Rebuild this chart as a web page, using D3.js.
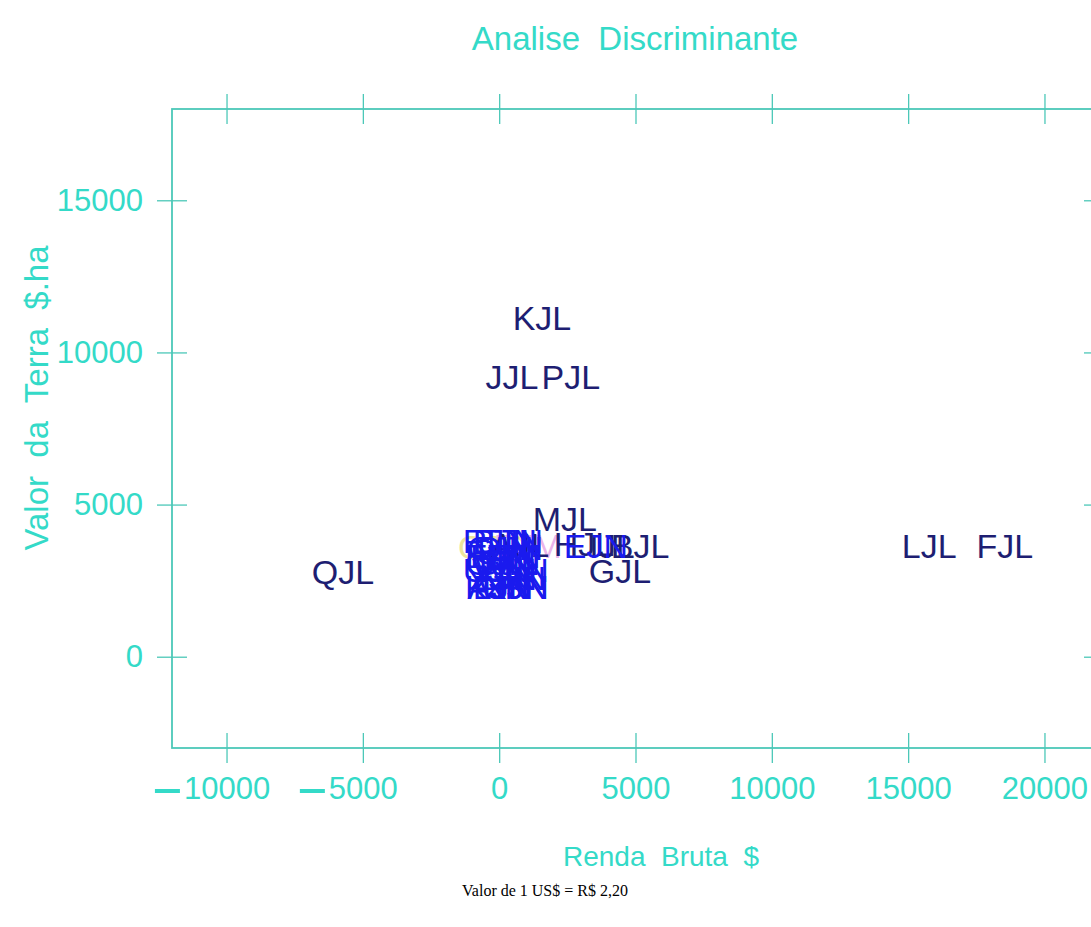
<!DOCTYPE html>
<html>
<head>
<meta charset="utf-8">
<script src="https://cdn.jsdelivr.net/npm/d3@7"></script>
<style>
  html, body { margin: 0; padding: 0; background: #ffffff; }
  svg text { white-space: pre; }
</style>
</head>
<body>
<script>
// Discriminant analysis scatter: gross income ($) vs land value ($/ha), one text label per farm.

const xTicks = [-10000, -5000, 0, 5000, 10000, 15000, 20000];
const yTicks = [0, 5000, 10000, 15000];

// Farms of group "JL"
const jlNames = ["QJL", "KJL", "JJL", "PJL", "MJL", "LJL", "FJL", "AJL", "HJL", "IJL", "BJL", "GJL"];
const jlRenda = [-5730, 1570, 470, 2630, 2410, 15770, 18550, 760, 3110, 4140, 5170, 4430];
const jlTerra = [2780, 11130, 9190, 9190, 4530, 3640, 3640, 3670, 3700, 3640, 3640, 2820];

// Farms of group "JN"
const jnNames = ["RJN", "BJN", "TJN", "CJN", "DJN", "EJN", "HJN", "IJN", "OJN", "SJN", "UJN", "VJN",
                 "WJN", "YJN", "ZJN", "PJN", "KJN", "LJN", "XJN", "AJN", "NJN", "EJN"];
const jnRenda = [-120, 210, 470, 30, 400, -80, 140, 580, -10, 320, -120, 180,
                 470, -40, 250, 540, -80, 140, 620, 20, 610, 3550];
const jnTerra = [3800, 3800, 3800, 3570, 3570, 3310, 3310, 3310, 3080, 3080, 2850, 2850,
                 2850, 2590, 2590, 2590, 2290, 2290, 2290, 2290, 2290, 3640];

// Remaining marks under the cluster
const otherNames = ["OJC", "EJM"];
const otherRenda = [-260, 1050];
const otherTerra = [3610, 3640];
const otherColors = ["#eee49a", "#eab4ea"];

const W = 1091, H = 927;
const axisColor = "#4cc8b8";
const textColor = "#34dac8";
const jlColor = "#1e1e72";
const jnColor = "#1a1aee";
const fontFam = "'Liberation Sans', Arial, sans-serif";

const svg = d3.select("body").append("svg")
  .attr("width", W).attr("height", H)
  .style("font-family", fontFam);

svg.append("rect").attr("width", W).attr("height", H).attr("fill", "#ffffff");

const x = d3.scaleLinear().domain([-12000, 22000]).range([172, 1099]);
const y = d3.scaleLinear().domain([-3000, 18000]).range([748, 109]);

// Frame
svg.append("rect")
  .attr("x", x(-12000)).attr("y", y(18000))
  .attr("width", x(22000) - x(-12000)).attr("height", y(-3000) - y(18000))
  .attr("fill", "none").attr("stroke", axisColor).attr("stroke-width", 1.8);

const tickLen = 30;

function styleAxis(g, showText) {
  g.select(".domain").remove();
  g.selectAll(".tick line").attr("stroke", axisColor).attr("stroke-width", 1.3);
  g.selectAll(".tick text")
    .attr("fill", textColor)
    .style("font-size", "31px")
    .style("font-family", fontFam)
    .style("display", showText ? null : "none");
}

// Bottom axis with labels; the number is centred on the tick, a wide minus bar hangs to its left
const bottom = svg.append("g")
  .attr("transform", `translate(0,${y(-3000) - tickLen / 2})`)
  .call(d3.axisBottom(x).tickValues(xTicks).tickSize(tickLen).tickPadding(14)
    .tickFormat(d => String(Math.abs(d))))
  .call(g => styleAxis(g, true));

bottom.selectAll(".tick").filter(d => d < 0).each(function () {
  const t = d3.select(this).select("text");
  const w = t.node().getComputedTextLength();
  d3.select(this).append("rect")
    .attr("x", -w / 2 - 29).attr("width", 25)
    .attr("y", tickLen + 14 + 12).attr("height", 4)
    .attr("fill", textColor);
});

// Top axis, ticks only
svg.append("g")
  .attr("transform", `translate(0,${y(18000) + tickLen / 2})`)
  .call(d3.axisTop(x).tickValues(xTicks).tickSize(tickLen).tickFormat(""))
  .call(g => styleAxis(g, false));

// Left axis with labels
svg.append("g")
  .attr("transform", `translate(${x(-12000) + tickLen / 2},0)`)
  .call(d3.axisLeft(y).tickValues(yTicks).tickSize(tickLen).tickPadding(14))
  .call(g => g.selectAll(".tick text").text(d => String(d)))
  .call(g => styleAxis(g, true));

// Right axis, ticks only
svg.append("g")
  .attr("transform", `translate(${x(22000) - tickLen / 2},0)`)
  .call(d3.axisRight(y).tickValues(yTicks).tickSize(tickLen).tickFormat(""))
  .call(g => styleAxis(g, false));

// Titles
svg.append("text")
  .attr("x", 635).attr("y", 50)
  .attr("text-anchor", "middle").attr("fill", textColor)
  .style("font-size", "33px")
  .text("Analise  Discriminante");

svg.append("text")
  .attr("x", 661).attr("y", 866)
  .attr("text-anchor", "middle").attr("fill", textColor)
  .style("font-size", "28px")
  .text("Renda  Bruta  $");

svg.append("text")
  .attr("transform", "translate(48,398) rotate(-90)")
  .attr("text-anchor", "middle").attr("fill", textColor)
  .style("font-size", "33px")
  .text("Valor  da  Terra  $.ha");

svg.append("text")
  .attr("x", 545).attr("y", 896)
  .attr("text-anchor", "middle").attr("fill", "#000000")
  .style("font-family", "'Liberation Serif', 'Times New Roman', serif")
  .style("font-size", "16px")
  .text("Valor de 1 US$ = R$ 2,20");

// Point labels: the label text itself marks each point, centred on it
const labelSize = 34;
function drawLabels(cls, names, rendas, terras, colorOf) {
  svg.append("g").attr("class", cls)
    .selectAll("text")
    .data(names.map((n, i) => ({ n, rx: rendas[i], ty: terras[i], i })))
    .join("text")
    .attr("x", d => x(d.rx))
    .attr("y", d => y(d.ty) + labelSize * 0.358)
    .attr("text-anchor", "middle")
    .attr("fill", d => colorOf(d.i))
    .style("font-size", labelSize + "px")
    .text(d => d.n);
}

drawLabels("other", otherNames, otherRenda, otherTerra, i => otherColors[i]);
drawLabels("grp-jl", jlNames, jlRenda, jlTerra, () => jlColor);
drawLabels("grp-jn", jnNames, jnRenda, jnTerra, () => jnColor);
</script>
</body>
</html>
